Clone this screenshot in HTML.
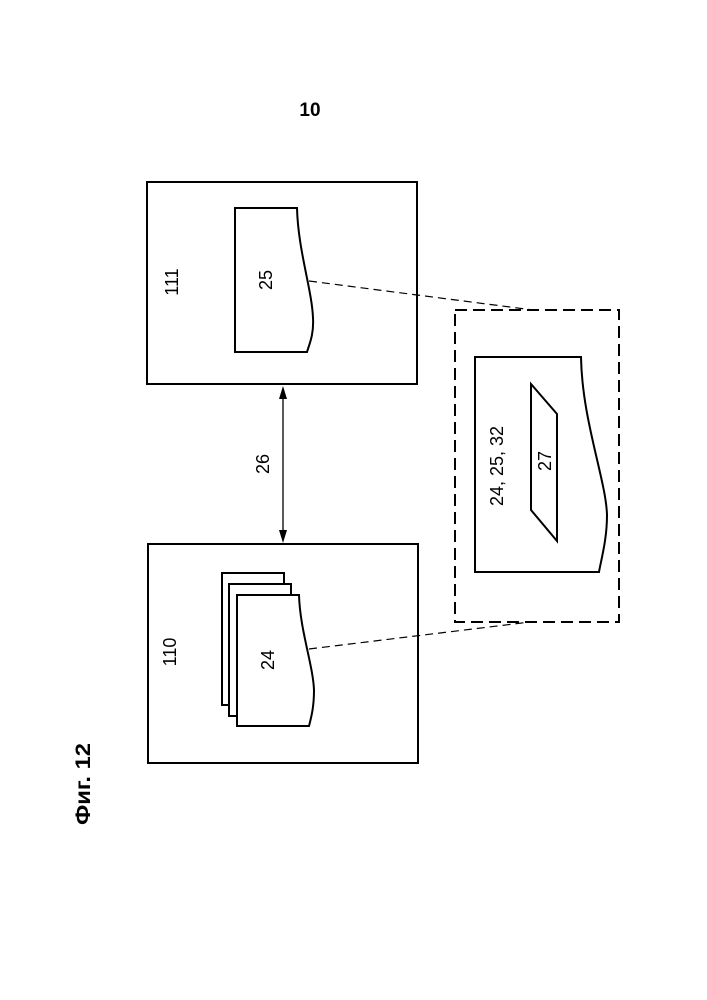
<!DOCTYPE html>
<html><head><meta charset="utf-8"><style>
html,body{margin:0;padding:0;background:#fff;}
svg{display:block;}
text{font-family:"Liberation Sans",sans-serif;fill:#000;}
</style></head><body>
<svg width="707" height="1000" viewBox="0 0 707 1000" xmlns="http://www.w3.org/2000/svg">
<text x="310" y="116" font-size="19" font-weight="bold" text-anchor="middle">10</text>
<text transform="translate(90,784) rotate(-90)" font-size="21" font-weight="bold" text-anchor="middle" textLength="82" lengthAdjust="spacingAndGlyphs">Фиг. 12</text>

<g fill="none" stroke="#000" stroke-width="2">
<rect x="147" y="182" width="270" height="202"/>
<path d="M235,208 H297 C298,250 312,290 313,318 C314,335 309,345 307,352 H235 Z" fill="#fff"/>
<rect x="148" y="544" width="270" height="219"/>
<rect x="222" y="573" width="62" height="132" fill="#fff"/>
<rect x="229" y="584" width="62" height="132" fill="#fff"/>
<path d="M237,595 H299 C300,630 313,665 314,690 C314,708 311,718 309,726 H237 Z" fill="#fff"/>
<path d="M475,357 H581 C582,420 606,480 607,515 C607,540 601,560 599,572 H475 Z"/>
<path d="M531,384 L557,414 L557,541 L531,510 Z"/>
</g>
<rect x="455" y="310" width="164" height="312" fill="none" stroke="#000" stroke-width="2" stroke-dasharray="12,6"/>
<g stroke="#000" stroke-width="1.2" stroke-dasharray="8,5" fill="none">
<line x1="309" y1="281" x2="533" y2="310"/>
<line x1="309" y1="649" x2="530" y2="622"/>
</g>
<line x1="283" y1="396" x2="283" y2="533" stroke="#000" stroke-width="1.3"/>
<path d="M283,386 L279,399 L287,399 Z M283,543 L279,530 L287,530 Z" fill="#000"/>

<g font-size="18" text-anchor="middle">
<text transform="translate(178,282) rotate(-90)">111</text>
<text transform="translate(272,280) rotate(-90)">25</text>
<text transform="translate(269,464) rotate(-90)">26</text>
<text transform="translate(176,652) rotate(-90)">110</text>
<text transform="translate(274,660) rotate(-90)">24</text>
<text transform="translate(503,466) rotate(-90)">24, 25, 32</text>
<text transform="translate(551,461) rotate(-90)">27</text>
</g>
</svg>
</body></html>
